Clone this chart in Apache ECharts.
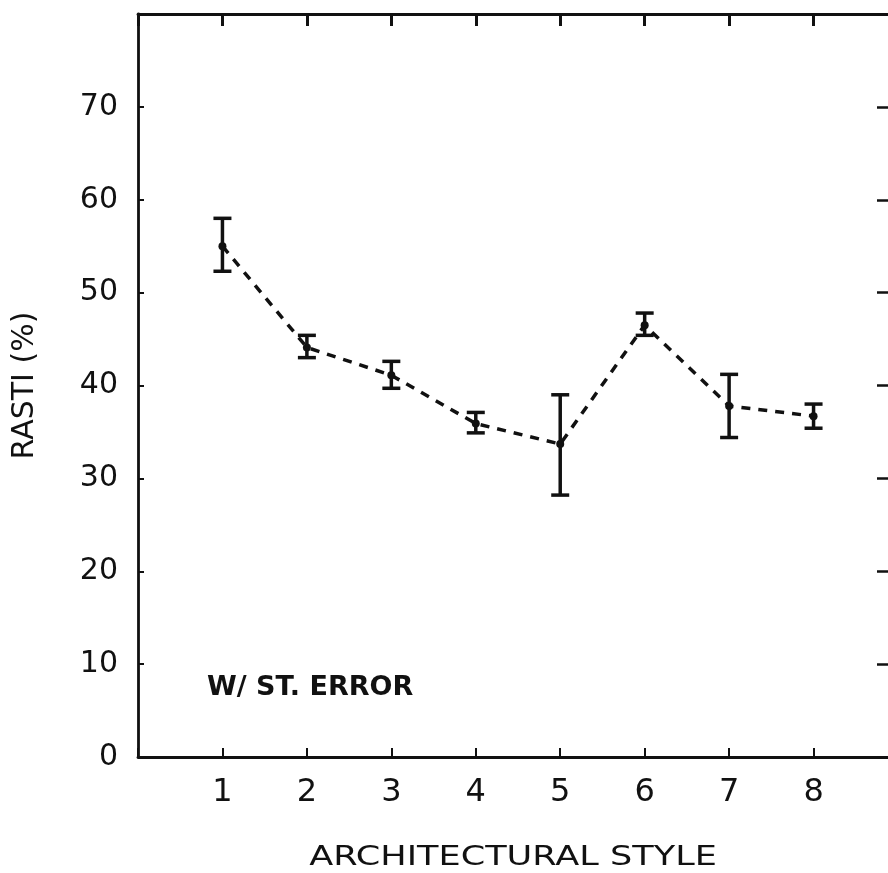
<!DOCTYPE html>
<html>
<head>
<meta charset="utf-8">
<script src="https://cdn.jsdelivr.net/npm/echarts@6/dist/echarts.min.js"></script>
<style>
html,body{margin:0;padding:0;background:#fff;}
#chart{width:888px;height:873px;}
</style>
</head>
<body>
<div id="chart"></div>
<script>
var styles = [1, 2, 3, 4, 5, 6, 7, 8];
var means = [55.0, 44.1, 41.1, 35.9, 33.7, 46.5, 37.8, 36.7];
var lower = [52.3, 43.0, 39.7, 34.9, 28.2, 45.4, 34.4, 35.4];
var upper = [58.0, 45.4, 42.6, 37.1, 39.0, 47.8, 41.2, 38.0];
var xTickLabels = ['1', '2', '3', '4', '5', '6', '7', '8'];
var yTickLabels = ['0', '10', '20', '30', '40', '50', '60', '70'];
var xTitle = 'ARCHITECTURAL STYLE';
var yTitle = 'RASTI (%)';
var note = 'W/ ST. ERROR';

var FONT = 'DejaVu Sans';
var chart = echarts.init(document.getElementById('chart'), null, {renderer: 'canvas'});

var lineData = styles.map(function (s, i) { return [s, means[i]]; });
var errData = styles.map(function (s, i) { return [s, lower[i], upper[i]]; });

var axisLine = {show: true, onZero: false, lineStyle: {color: '#111', width: 2.8}};

chart.setOption({
  animation: false,
  backgroundColor: '#fff',
  grid: {left: 138, top: 14, height: 743, width: 760, show: false, containLabel: false, outerBoundsMode: 'none'},
  xAxis: [{
    type: 'value', min: 0, max: 9, interval: 1, position: 'bottom',
    axisLine: axisLine,
    axisTick: {show: true, inside: true, length: 9, lineStyle: {color: '#111', width: 2}},
    axisLabel: {
      fontFamily: FONT, fontSize: 32, color: '#111', margin: 20,
      formatter: function (v) { var i = xTickLabels.indexOf(String(v)); return i >= 0 ? xTickLabels[i] : ''; }
    },
    splitLine: {show: false}
  }, {
    type: 'value', min: 0, max: 9, interval: 1, position: 'top',
    axisLine: axisLine,
    axisTick: {show: true, inside: true, length: 12, lineStyle: {color: '#111', width: 3}},
    axisLabel: {show: false},
    splitLine: {show: false}
  }],
  yAxis: [{
    type: 'value', min: 0, max: 80, interval: 10, position: 'left',
    name: yTitle, nameLocation: 'middle', nameGap: 98, nameRotate: 90,
    nameTextStyle: {fontFamily: FONT, fontSize: 30, color: '#111'},
    axisLine: axisLine,
    axisTick: {show: true, inside: true, length: 6, lineStyle: {color: '#111', width: 2}},
    axisLabel: {
      fontFamily: FONT, fontSize: 30, color: '#111', margin: 20,
      formatter: function (v) { var i = yTickLabels.indexOf(String(v)); return i >= 0 ? yTickLabels[i] : ''; }
    },
    splitLine: {show: false}
  }, {
    type: 'value', min: 0, max: 80, interval: 10, position: 'right',
    axisLine: axisLine,
    axisTick: {show: true, inside: true, length: 21, lineStyle: {color: '#111', width: 2.5}},
    axisLabel: {show: false},
    splitLine: {show: false}
  }],
  graphic: [{
    type: 'text', x: 513, y: 858, scaleX: 1.3, scaleY: 1,
    style: {text: xTitle, fontFamily: FONT, fontSize: 27, fill: '#111',
            align: 'center', verticalAlign: 'middle', textAlign: 'center', textVerticalAlign: 'middle'}
  }, {
    type: 'text', x: 207, y: 688,
    style: {text: note, fontFamily: FONT, fontWeight: 'bold', fontSize: 27, fill: '#111',
            align: 'left', verticalAlign: 'middle', textAlign: 'left', textVerticalAlign: 'middle'}
  }],
  series: [{
    type: 'line', data: lineData, xAxisIndex: 0, yAxisIndex: 0,
    symbol: 'circle', symbolSize: 8,
    itemStyle: {color: '#111'},
    lineStyle: {color: '#111', width: 3.5, type: [9, 8]},
    z: 2
  }, {
    type: 'custom', data: errData, xAxisIndex: 0, yAxisIndex: 0, z: 3,
    renderItem: function (params, api) {
      var x = api.value(0);
      var lo = api.coord([x, api.value(1)]);
      var hi = api.coord([x, api.value(2)]);
      var hw = 9;
      var st = {stroke: '#111', lineWidth: 3.5};
      return {
        type: 'group',
        children: [
          {type: 'line', shape: {x1: lo[0], y1: lo[1], x2: hi[0], y2: hi[1]}, style: st},
          {type: 'line', shape: {x1: lo[0] - hw, y1: lo[1], x2: lo[0] + hw, y2: lo[1]}, style: st},
          {type: 'line', shape: {x1: hi[0] - hw, y1: hi[1], x2: hi[0] + hw, y2: hi[1]}, style: st}
        ]
      };
    }
  }]
});
</script>
</body>
</html>
